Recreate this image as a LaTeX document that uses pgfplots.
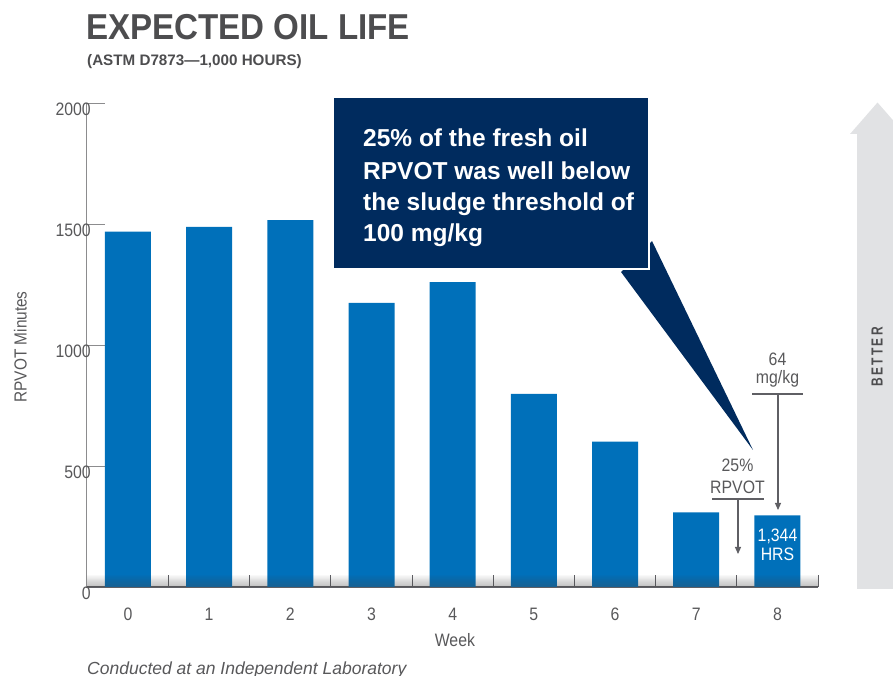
\documentclass[border=0pt]{standalone}
\usepackage{pgfplots}
\pgfplotsset{compat=1.18}
\usepackage{fontspec}
\usetikzlibrary{arrows.meta}
\setmainfont{Liberation Sans}
\newfontfamily\titlef[FakeStretch=0.92]{Liberation Sans}
\newfontfamily\condf[FakeStretch=0.88]{Liberation Sans}
\newfontfamily\betterf[FakeStretch=0.75,LetterSpace=15]{Liberation Sans}
\definecolor{barblue}{RGB}{0,112,186}
\definecolor{navy}{RGB}{0,43,94}
\definecolor{titlegray}{RGB}{77,77,79}
\definecolor{labgray}{RGB}{88,88,90}
\definecolor{axisgray}{RGB}{140,140,142}
\definecolor{axisdark}{RGB}{95,95,100}
\definecolor{arrowgray}{RGB}{225,226,228}
\definecolor{shade}{RGB}{0,20,60}
\begin{document}
\begin{tikzpicture}[x=1pt,y=1pt]
\useasboundingbox (0,0) rectangle (893,676);
\begin{scope}
\clip (0,0) rectangle (893,676);
% BETTER arrow
\fill[arrowgray] (857,87) -- (857,542) -- (850,542) -- (877.5,573.5) -- (905,542) -- (898,542) -- (898,87) -- cycle;
\node[rotate=90, text=titlegray, font=\betterf\bfseries\fontsize{16}{16}\selectfont, inner sep=0pt] at (877,319) {BETTER};

\begin{axis}[
  at={(86pt,89pt)}, anchor=south west, scale only axis,
  width=732pt, height=484pt,
  xmin=-0.517, xmax=8.5, ymin=0, ymax=2000,
  axis x line*=bottom, axis y line*=left,
  axis line style={-},
  x axis line style={draw=axisdark, line width=1.4pt},
  y axis line style={draw=axisgray, line width=0.9pt},
  xtick={0,1,2,3,4,5,6,7,8},
  xticklabels={0,1,2,3,4,5,6,7,8},
  every major x tick/.append style={draw=none},
  minor xtick={0.5,1.5,2.5,3.5,4.5,5.5,6.5,7.5,8.5},
  minor tick length=12pt,
  every minor tick/.append style={draw=axisdark, line width=0.9pt},
  ytick={0,500,1000,1500,2000},
  major tick length=19pt,
  every major y tick/.append style={draw=axisgray, line width=0.9pt},
  tick align=inside, xtick align=inside, ytick align=inside,
  /pgf/number format/assume math mode=true,
  scaled y ticks=false,
  yticklabel style={/pgf/number format/1000 sep={}, anchor=north east, inner sep=0pt, xshift=5pt, text=labgray, font=\condf\fontsize{18}{18}\selectfont},
  xticklabel style={anchor=north, inner sep=0pt, yshift=-21pt, text=labgray, font=\condf\fontsize{18}{18}\selectfont},
  xlabel={Week},
  xlabel style={at={(axis description cs:0.504,-0.1095)}, anchor=center, inner sep=0pt, text=labgray, font=\condf\fontsize{18}{18}\selectfont},
  ylabel={RPVOT Minutes},
  ylabel style={at={(axis description cs:-0.0895,0.496)}, anchor=center, inner sep=0pt, text=labgray, font=\condf\fontsize{17.5}{17.5}\selectfont},
]
\addplot[ybar, bar width=46pt, fill=barblue, draw=none] coordinates {(0,1468) (1,1488) (2,1516) (3,1174) (4,1260) (5,798) (6,601) (7,308) (8,296)};
\end{axis}

% bottom gradient
\foreach \i [evaluate=\i as \op using 0.015*(\i+1)] in {0,...,11} {
  \fill[shade, opacity=\op] (86.5, 100-\i) rectangle (818, 101-\i);
}

% title
\node[anchor=base west, inner sep=0pt, text=titlegray, font=\titlef\bfseries\fontsize{36}{36}\selectfont] at (86,636) {EXPECTED OIL LIFE};
\node[anchor=base west, inner sep=0pt, text=titlegray, font=\bfseries\fontsize{15.2}{15.2}\selectfont] at (87,610) {(ASTM D7873—1,000 HOURS)};
\node[anchor=base west, inner sep=0pt, text=labgray, font=\itshape\fontsize{17.5}{17.5}\selectfont] at (87,1) {Conducted at an Independent Laboratory};

% callout
\fill[navy] (621,404) -- (652,435) -- (753,226) -- cycle;
\filldraw[fill=navy, draw=white, line width=2.5pt] (333,579) rectangle (649,407);
\begin{scope}[every node/.style={anchor=base west, inner sep=0pt, text=white, font=\bfseries\fontsize{24.5}{24.5}\selectfont}]
\node at (363,529) {25\% of the fresh oil};
\node at (363,496) {RPVOT was well below};
\node at (363,465) {the sludge threshold of};
\node at (363,434) {100 mg/kg};
\end{scope}

% annotations
\begin{scope}[every node/.style={anchor=base, inner sep=0pt, text=labgray, font=\condf\fontsize{18}{18}\selectfont}]
\node at (777.5,310) {64};
\node at (777.5,292) {mg/kg};
\node at (737.5,204) {25\%};
\node at (737.5,182) {RPVOT};
\node[text=white] at (777.5,134) {1,344};
\node[text=white] at (777.5,115) {HRS};
\end{scope}
\draw[axisdark, line width=1.2pt] (752,282) -- (803,282);
\draw[axisdark, line width=1.1pt, -{Triangle[length=7pt,width=6pt]}] (778,282) -- (778,166);
\draw[axisdark, line width=1.2pt] (712,177) -- (764,177);
\draw[axisdark, line width=1.1pt, -{Triangle[length=7pt,width=6pt]}] (738,177) -- (738,122);
\end{scope}
\end{tikzpicture}
\end{document}
